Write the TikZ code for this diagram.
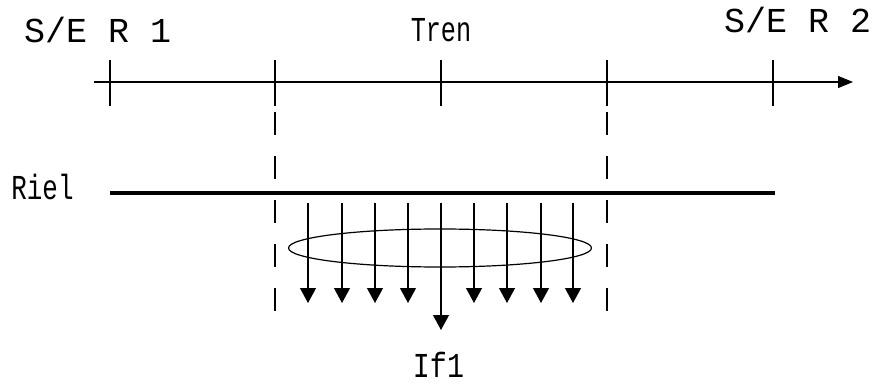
\documentclass[tikz,border=0pt]{standalone}
\usepackage{fontspec}
\setmonofont{Liberation Mono}
\usetikzlibrary{arrows.meta,shapes.geometric}
\begin{document}
\begin{tikzpicture}[x=1pt,y=-1pt,
  thinline/.style={line width=1.2pt,black},
  tickline/.style={line width=1.2pt,black},
  dashline/.style={line width=1.2pt,black,dash pattern=on 23pt off 21pt},
  railline/.style={line width=4pt,black},
  downarrow/.style={line width=1.2pt,black,-{Triangle[length=15pt,width=16pt]}},
  lbl/.style={inner sep=0pt,font=\ttfamily\fontsize{35}{35}\selectfont},
]
\useasboundingbox (0,0) rectangle (881,385);
% labels
\node[lbl,anchor=base west] (se1) at (24,43) {S/E R 1};
\node[lbl,anchor=base west] (se2) at (724,33) {S/E R 2};
\node[lbl,anchor=base] (tren) at (441,42) {\scalebox{0.72}[1]{Tren}};
\node[lbl,anchor=base] (riel) at (42.5,199) {\scalebox{0.74}[1]{Riel}};
\node[lbl,anchor=base] (if1) at (438.5,377) {\scalebox{0.81}[1]{If1}};
% axis
\coordinate (axs) at (94,82);
\coordinate (axe) at (853,82);
\draw[thinline,-{Triangle[length=15pt,width=12pt]}] (axs) -- (axe);
\foreach \x [count=\i] in {110,275,441,607,773}{
  \coordinate (t\i a) at (\x,60);
  \coordinate (t\i b) at (\x,106);
  \draw[tickline] (t\i a) -- (t\i b);
}
% dashed verticals
\coordinate (d1a) at (275,112); \coordinate (d1b) at (275,312);
\coordinate (d2a) at (607,112); \coordinate (d2b) at (607,312);
\draw[dashline] (d1a) -- (d1b);
\draw[dashline] (d2a) -- (d2b);
% rail
\coordinate (rs) at (110,193); \coordinate (re) at (775,193);
\draw[railline] (rs) -- (re);
% ellipse
\node[draw,line width=1.2pt,ellipse,minimum width=303pt,minimum height=38pt,inner sep=0pt] (ell) at (440,248) {};
% arrows
\foreach \x [count=\i] in {308,342,375,408,474,507,541,573}{
  \coordinate (a\i s) at (\x,203);
  \coordinate (a\i e) at (\x,303);
  \draw[downarrow] (a\i s) -- (a\i e);
}
\coordinate (cs) at (441,203); \coordinate (ce) at (441,330);
\draw[downarrow] (cs) -- (ce);
\end{tikzpicture}
\end{document}
